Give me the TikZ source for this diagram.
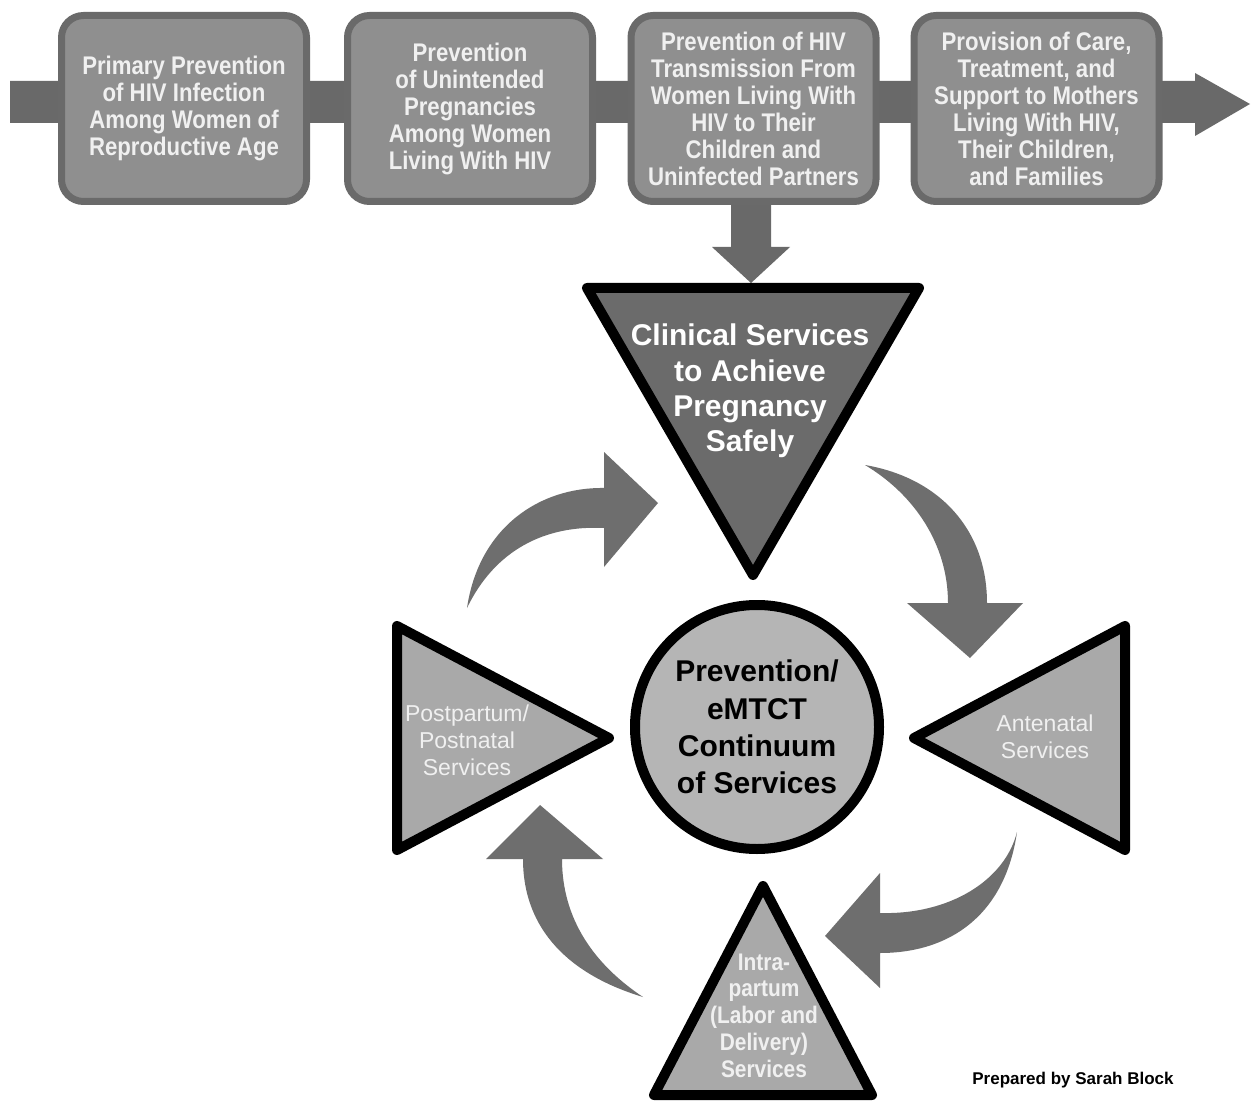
\documentclass[tikz,border=0pt]{standalone}
\usepackage{fontspec}
\setmainfont{Liberation Sans}
\newfontfamily\narrowbold[FakeStretch=0.87]{Liberation Sans}
\usetikzlibrary{calc}
\definecolor{bandgray}{HTML}{696969}
\definecolor{boxfill}{HTML}{8F8F8F}
\definecolor{boxborder}{HTML}{6A6A6A}
\definecolor{clinfill}{HTML}{6B6B6B}
\definecolor{circfill}{HTML}{B5B5B5}
\definecolor{sidefill}{HTML}{A9A9A9}
\definecolor{arrowgray}{HTML}{6E6E6E}
\definecolor{txtwhite}{HTML}{F0F0F0}
\begin{document}
\begin{tikzpicture}[x=1pt,y=-1pt,
  stagebox/.style={draw=boxborder, fill=boxfill, line width=7pt, rounded corners=22pt,
    minimum width=245pt, minimum height=186pt, inner sep=0pt, align=center,
    text=txtwhite, font=\narrowbold\bfseries\fontsize{25.5}{27}\selectfont},
  tribox/.style={draw=black, line width=10pt, line join=round},
  curvearrow/.style={fill=arrowgray},
  bigwhite/.style={align=center, text=white, inner sep=0pt, font=\bfseries\fontsize{30}{35.3}\selectfont},
  sidetext/.style={align=center, text=txtwhite, inner sep=0pt, font=\fontsize{23}{27}\selectfont},
  bottomtext/.style={align=center, text=txtwhite, inner sep=0pt, font=\narrowbold\bfseries\fontsize{24}{26.8}\selectfont}
]
\useasboundingbox (0,0) rectangle (1259,1107);
\fill[white] (0,0) rectangle (1259,1107);

% backbone band with arrowhead
\fill[bandgray] (10,81) -- (1195,81) -- (1195,73) -- (1250,104) -- (1195,136) -- (1195,123) -- (10,123) -- cycle;

% coordinates
\coordinate (cltop) at (751,283);

% stage boxes
\node[stagebox] (b1) at (184,108.5) {Primary Prevention\\of HIV Infection\\Among Women of\\Reproductive Age};
\node[stagebox] (b2) at (470,108.5) {Prevention\\of Unintended\\Pregnancies\\Among Women\\Living With HIV};
% down arrow (drawn before box 3 so its top hides under the border)
\fill[bandgray] ([xshift=-20pt]cltop |- 0,200) -- ([xshift=20pt]cltop |- 0,200)
  -- ($(cltop)+(20,-36)$) -- ($(cltop)+(39,-36)$) -- (cltop) -- ($(cltop)+(-39,-36)$) -- ($(cltop)+(-20,-36)$) -- cycle;
\node[stagebox] (b3) at (753.5,108.5) {Prevention of HIV\\Transmission From\\Women Living With\\HIV to Their\\Children and\\Uninfected Partners};
\node[stagebox] (b4) at (1036.5,108.5) {Provision of Care,\\Treatment, and\\Support to Mothers\\Living With HIV,\\Their Children,\\and Families};

% clinical services inverted triangle
\draw[tribox, fill=clinfill] (587,288) -- (919,288) -- (753,575) -- cycle;
\node[bigwhite] (clin) at (750,391) {Clinical Services\\to Achieve\\Pregnancy\\Safely};

% side triangles
\draw[tribox, fill=sidefill] (397,626) -- (397,850) -- (609,738) -- cycle;
\node[sidetext] (pp) at (467,740) {Postpartum/\\Postnatal\\Services};
\draw[tribox, fill=sidefill] (1125,626) -- (1125,850) -- (914,738) -- cycle;
\node[sidetext] (an) at (1045,736.5) {Antenatal\\Services};
\draw[tribox, fill=sidefill] (763,886) -- (872,1095) -- (654,1095) -- cycle;
\node[bottomtext] (ip) at (764,1015.5) {Intra-\\partum\\(Labor and\\Delivery)\\Services};

% central circle
\node[circle, draw=black, line width=10pt, fill=circfill, minimum size=244pt, inner sep=0pt,
  align=center, font=\bfseries\fontsize{30}{37.3}\selectfont] (circ) at (757,727)
  {Prevention/\\eMTCT\\Continuum\\of Services};

% curved arrows
\fill[curvearrow] (467,608) .. controls (479,527) and (540,487) .. (604,488)
  -- (604,452) -- (658,503) -- (604,567) -- (604,528)
  .. controls (545,525) and (495,550) .. (467,608) -- cycle;
\fill[curvearrow] (865,465) .. controls (940,478) and (987,530) .. (987,603)
  -- (1023,603) -- (970,658) -- (907,603) -- (948,603)
  .. controls (948,545) and (915,495) .. (865,465) -- cycle;
\fill[curvearrow] (1017,832) .. controls (1005,915) and (950,953) .. (880,953)
  -- (880,988) -- (825,936) -- (880,873) -- (880,913)
  .. controls (950,915) and (1005,880) .. (1017,832) -- cycle;
\fill[curvearrow] (643,997) .. controls (570,975) and (523,930) .. (523,859)
  -- (486,859) -- (540,805) -- (603,859) -- (562,859)
  .. controls (562,920) and (595,965) .. (643,997) -- cycle;

% credit
\node[inner sep=0pt, font=\bfseries\fontsize{17}{20}\selectfont] (credit) at (1073,1080) {Prepared by Sarah Block};
\end{tikzpicture}
\end{document}
